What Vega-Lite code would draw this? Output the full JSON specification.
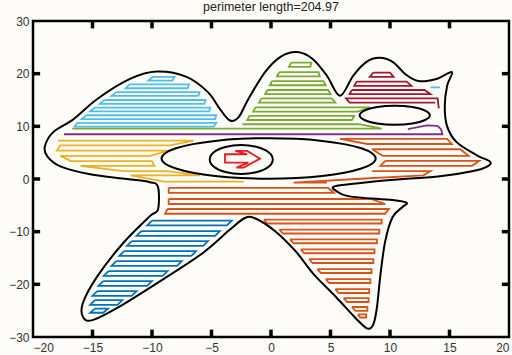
{
"$schema":"https://vega.github.io/schema/vega-lite/v6.json",
"width":476,"height":316,
"autosize":{"type":"none"},
"padding":{"left":33,"top":21,"right":3,"bottom":18},
"background":"#fefcf8",
"config":{"view":{"stroke":"#000","strokeWidth":2.5},"font":"Liberation Sans"},
"title":{"text":"perimeter length=204.97","fontSize":12.5,"fontWeight":"normal","color":"#222","offset":2,"font":"Liberation Sans"},
"datasets":{
"ticks":[
{"x":-15,"y":30,"x2":-15,"y2":28.6},{"x":-10,"y":30,"x2":-10,"y2":28.6},{"x":-5,"y":30,"x2":-5,"y2":28.6},{"x":0,"y":30,"x2":0,"y2":28.6},{"x":5,"y":30,"x2":5,"y2":28.6},{"x":10,"y":30,"x2":10,"y2":28.6},{"x":15,"y":30,"x2":15,"y2":28.6},
{"x":-15,"y":-30,"x2":-15,"y2":-28.6},{"x":-10,"y":-30,"x2":-10,"y2":-28.6},{"x":-5,"y":-30,"x2":-5,"y2":-28.6},{"x":0,"y":-30,"x2":0,"y2":-28.6},{"x":5,"y":-30,"x2":5,"y2":-28.6},{"x":10,"y":-30,"x2":10,"y2":-28.6},{"x":15,"y":-30,"x2":15,"y2":-28.6},
{"x":-20,"y":-20,"x2":-19.4,"y2":-20},{"x":-20,"y":-10,"x2":-19.4,"y2":-10},{"x":-20,"y":0,"x2":-19.4,"y2":0},{"x":-20,"y":10,"x2":-19.4,"y2":10},{"x":-20,"y":20,"x2":-19.4,"y2":20},
{"x":20,"y":-20,"x2":19.4,"y2":-20},{"x":20,"y":-10,"x2":19.4,"y2":-10},{"x":20,"y":0,"x2":19.4,"y2":0},{"x":20,"y":10,"x2":19.4,"y2":10},{"x":20,"y":20,"x2":19.4,"y2":20}
],
"shapes":[
{"g":"o","x":-19.0,"y":6.2},{"g":"o","x":-18.3,"y":8.9},{"g":"o","x":-16.6,"y":11.35},{"g":"o","x":-14.6,"y":15.2},{"g":"o","x":-11.85,"y":19.0},{"g":"o","x":-9.6,"y":20.4},{"g":"o","x":-7.1,"y":19.4},{"g":"o","x":-5.3,"y":16.5},{"g":"o","x":-4.3,"y":13.3},{"g":"o","x":-3.45,"y":11.1},{"g":"o","x":-2.7,"y":11.8},{"g":"o","x":-1.9,"y":15.2},{"g":"o","x":-0.5,"y":20.3},{"g":"o","x":0.8,"y":23.2},{"g":"o","x":2.2,"y":24.1},{"g":"o","x":3.5,"y":22.8},{"g":"o","x":4.7,"y":19.6},{"g":"o","x":5.8,"y":15.8},{"g":"o","x":6.9,"y":19.6},{"g":"o","x":8.0,"y":22.2},{"g":"o","x":9.1,"y":23.0},{"g":"o","x":10.25,"y":22.2},{"g":"o","x":11.3,"y":19.9},{"g":"o","x":12.4,"y":18.6},{"g":"o","x":13.9,"y":19.0},{"g":"o","x":15.2,"y":20.3},{"g":"o","x":14.8,"y":17.7},{"g":"o","x":14.6,"y":13.8},{"g":"o","x":14.8,"y":10.0},{"g":"o","x":15.6,"y":7.0},{"g":"o","x":17.3,"y":4.5},{"g":"o","x":18.4,"y":3.3},{"g":"o","x":18.2,"y":2.4},{"g":"o","x":17.0,"y":1.5},{"g":"o","x":14.2,"y":0.5},{"g":"o","x":10.9,"y":-0.05},{"g":"o","x":8.1,"y":-0.6},{"g":"o","x":5.8,"y":-1.2},{"g":"o","x":5.2,"y":-1.6},{"g":"o","x":5.5,"y":-2.3},{"g":"o","x":6.6,"y":-3.3},{"g":"o","x":10.2,"y":-4.0},{"g":"o","x":11.4,"y":-4.5},{"g":"o","x":11.0,"y":-5.4},{"g":"o","x":10.2,"y":-7.3},{"g":"o","x":9.6,"y":-11.8},{"g":"o","x":9.2,"y":-18.1},{"g":"o","x":8.9,"y":-24.4},{"g":"o","x":8.6,"y":-27.6},{"g":"o","x":8.1,"y":-28.4},{"g":"o","x":7.1,"y":-26.4},{"g":"o","x":5.5,"y":-22.5},{"g":"o","x":3.6,"y":-18.1},{"g":"o","x":2.1,"y":-13.8},{"g":"o","x":0.4,"y":-10.0},{"g":"o","x":-1.3,"y":-7.5},{"g":"o","x":-2.2,"y":-7.4},{"g":"o","x":-3.45,"y":-9.6},{"g":"o","x":-5.7,"y":-14.0},{"g":"o","x":-9.1,"y":-19.1},{"g":"o","x":-12.7,"y":-24.2},{"g":"o","x":-15.0,"y":-26.8},{"g":"o","x":-15.8,"y":-26.2},{"g":"o","x":-15.8,"y":-23.5},{"g":"o","x":-14.6,"y":-18.5},{"g":"o","x":-12.4,"y":-12.1},{"g":"o","x":-10.2,"y":-7.1},{"g":"o","x":-9.5,"y":-5.8},{"g":"o","x":-9.5,"y":-1.5},{"g":"o","x":-10.2,"y":-0.6},{"g":"o","x":-12.1,"y":0.0},{"g":"o","x":-15.2,"y":0.9},{"g":"o","x":-17.7,"y":2.4},{"g":"o","x":-18.8,"y":4.3},
{"g":"e1","x":8.8,"y":3.9},{"g":"e1","x":8.49,"y":4.9},{"g":"e1","x":7.59,"y":5.83},{"g":"e1","x":6.16,"y":6.62},{"g":"e1","x":4.3,"y":7.23},{"g":"e1","x":2.13,"y":7.62},{"g":"e1","x":-0.2,"y":7.75},{"g":"e1","x":-2.53,"y":7.62},{"g":"e1","x":-4.7,"y":7.23},{"g":"e1","x":-6.56,"y":6.62},{"g":"e1","x":-7.99,"y":5.83},{"g":"e1","x":-8.89,"y":4.9},{"g":"e1","x":-9.2,"y":3.9},{"g":"e1","x":-8.89,"y":2.9},{"g":"e1","x":-7.99,"y":1.98},{"g":"e1","x":-6.56,"y":1.18},{"g":"e1","x":-4.7,"y":0.57},{"g":"e1","x":-2.53,"y":0.18},{"g":"e1","x":-0.2,"y":0.05},{"g":"e1","x":2.13,"y":0.18},{"g":"e1","x":4.3,"y":0.57},{"g":"e1","x":6.16,"y":1.18},{"g":"e1","x":7.59,"y":1.98},{"g":"e1","x":8.49,"y":2.9},
{"g":"e2","x":0.15,"y":3.7},{"g":"e2","x":-0.2,"y":5.08},{"g":"e2","x":-1.18,"y":6.08},{"g":"e2","x":-2.5,"y":6.45},{"g":"e2","x":-3.83,"y":6.08},{"g":"e2","x":-4.8,"y":5.08},{"g":"e2","x":-5.15,"y":3.7},{"g":"e2","x":-4.8,"y":2.33},{"g":"e2","x":-3.83,"y":1.32},{"g":"e2","x":-2.5,"y":0.95},{"g":"e2","x":-1.18,"y":1.32},{"g":"e2","x":-0.2,"y":2.33},
{"g":"e3","x":13.35,"y":12.1},{"g":"e3","x":12.95,"y":13.0},{"g":"e3","x":11.88,"y":13.66},{"g":"e3","x":10.4,"y":13.9},{"g":"e3","x":8.93,"y":13.66},{"g":"e3","x":7.85,"y":13.0},{"g":"e3","x":7.45,"y":12.1},{"g":"e3","x":7.85,"y":11.2},{"g":"e3","x":8.93,"y":10.54},{"g":"e3","x":10.4,"y":10.3},{"g":"e3","x":11.88,"y":10.54},{"g":"e3","x":12.95,"y":11.2}
],
"stripes":[
{"g":"b1","c":"blue","x":-10.0,"y":-7.9},{"g":"b1","c":"blue","x":-3.3,"y":-7.9},{"g":"b1","c":"blue","x":-3.7,"y":-8.8},{"g":"b1","c":"blue","x":-10.4,"y":-8.8},{"g":"b1","c":"blue","x":-10.0,"y":-7.9},
{"g":"b2","c":"blue","x":-10.9,"y":-9.9},{"g":"b2","c":"blue","x":-4.3,"y":-9.9},{"g":"b2","c":"blue","x":-4.7,"y":-10.8},{"g":"b2","c":"blue","x":-11.3,"y":-10.8},{"g":"b2","c":"blue","x":-10.9,"y":-9.9},
{"g":"b3","c":"blue","x":-11.7,"y":-11.8},{"g":"b3","c":"blue","x":-5.3,"y":-11.8},{"g":"b3","c":"blue","x":-5.7,"y":-12.7},{"g":"b3","c":"blue","x":-12.1,"y":-12.7},{"g":"b3","c":"blue","x":-11.7,"y":-11.8},
{"g":"b4","c":"blue","x":-12.35,"y":-13.7},{"g":"b4","c":"blue","x":-6.3,"y":-13.7},{"g":"b4","c":"blue","x":-6.7,"y":-14.6},{"g":"b4","c":"blue","x":-12.75,"y":-14.6},{"g":"b4","c":"blue","x":-12.35,"y":-13.7},
{"g":"b5","c":"blue","x":-13.0,"y":-15.6},{"g":"b5","c":"blue","x":-7.5,"y":-15.6},{"g":"b5","c":"blue","x":-7.9,"y":-16.5},{"g":"b5","c":"blue","x":-13.4,"y":-16.5},{"g":"b5","c":"blue","x":-13.0,"y":-15.6},
{"g":"b6","c":"blue","x":-13.65,"y":-17.5},{"g":"b6","c":"blue","x":-8.7,"y":-17.5},{"g":"b6","c":"blue","x":-9.1,"y":-18.4},{"g":"b6","c":"blue","x":-14.05,"y":-18.4},{"g":"b6","c":"blue","x":-13.65,"y":-17.5},
{"g":"b7","c":"blue","x":-14.1,"y":-19.4},{"g":"b7","c":"blue","x":-10.0,"y":-19.4},{"g":"b7","c":"blue","x":-10.4,"y":-20.3},{"g":"b7","c":"blue","x":-14.5,"y":-20.3},{"g":"b7","c":"blue","x":-14.1,"y":-19.4},
{"g":"b8","c":"blue","x":-14.6,"y":-21.3},{"g":"b8","c":"blue","x":-11.3,"y":-21.3},{"g":"b8","c":"blue","x":-11.7,"y":-22.2},{"g":"b8","c":"blue","x":-15.0,"y":-22.2},{"g":"b8","c":"blue","x":-14.6,"y":-21.3},
{"g":"b9","c":"blue","x":-14.8,"y":-23.0},{"g":"b9","c":"blue","x":-12.5,"y":-23.0},{"g":"b9","c":"blue","x":-12.9,"y":-23.9},{"g":"b9","c":"blue","x":-15.2,"y":-23.9},{"g":"b9","c":"blue","x":-14.8,"y":-23.0},
{"g":"b10","c":"blue","x":-14.8,"y":-24.6},{"g":"b10","c":"blue","x":-13.7,"y":-24.6},{"g":"b10","c":"blue","x":-14.1,"y":-25.4},{"g":"b10","c":"blue","x":-15.2,"y":-25.4},{"g":"b10","c":"blue","x":-14.8,"y":-24.6},
{"g":"lb1","c":"lightblue","x":-9.9,"y":19.4},{"g":"lb1","c":"lightblue","x":-8.1,"y":19.4},{"g":"lb1","c":"lightblue","x":-8.3,"y":18.68},{"g":"lb1","c":"lightblue","x":-10.3,"y":18.68},{"g":"lb1","c":"lightblue","x":-9.9,"y":19.4},
{"g":"lb2","c":"lightblue","x":-11.9,"y":17.95},{"g":"lb2","c":"lightblue","x":-6.9,"y":17.95},{"g":"lb2","c":"lightblue","x":-7.0,"y":17.23},{"g":"lb2","c":"lightblue","x":-12.2,"y":17.23},{"g":"lb2","c":"lightblue","x":-11.9,"y":17.95},
{"g":"lb3","c":"lightblue","x":-13.0,"y":16.5},{"g":"lb3","c":"lightblue","x":-6.0,"y":16.5},{"g":"lb3","c":"lightblue","x":-6.1,"y":15.78},{"g":"lb3","c":"lightblue","x":-13.4,"y":15.78},{"g":"lb3","c":"lightblue","x":-13.0,"y":16.5},
{"g":"lb4","c":"lightblue","x":-14.0,"y":15.0},{"g":"lb4","c":"lightblue","x":-5.5,"y":15.0},{"g":"lb4","c":"lightblue","x":-5.6,"y":14.28},{"g":"lb4","c":"lightblue","x":-14.4,"y":14.28},{"g":"lb4","c":"lightblue","x":-14.0,"y":15.0},
{"g":"lb5","c":"lightblue","x":-14.8,"y":13.55},{"g":"lb5","c":"lightblue","x":-5.1,"y":13.55},{"g":"lb5","c":"lightblue","x":-5.2,"y":12.83},{"g":"lb5","c":"lightblue","x":-15.2,"y":12.83},{"g":"lb5","c":"lightblue","x":-14.8,"y":13.55},
{"g":"lb6","c":"lightblue","x":-15.5,"y":12.1},{"g":"lb6","c":"lightblue","x":-4.6,"y":12.1},{"g":"lb6","c":"lightblue","x":-4.7,"y":11.38},{"g":"lb6","c":"lightblue","x":-15.9,"y":11.38},{"g":"lb6","c":"lightblue","x":-15.5,"y":12.1},
{"g":"lb7","c":"lightblue","x":-16.3,"y":10.65},{"g":"lb7","c":"lightblue","x":-4.6,"y":10.65},{"g":"lb7","c":"lightblue","x":-4.8,"y":9.95},{"g":"lb7","c":"lightblue","x":-16.5,"y":9.95},{"g":"lb7","c":"lightblue","x":-16.3,"y":10.65},
{"g":"lbd","c":"lightblue","x":13.4,"y":17.4},{"g":"lbd","c":"lightblue","x":14.2,"y":17.4},
{"g":"g1","c":"green","x":1.7,"y":22.1},{"g":"g1","c":"green","x":3.4,"y":22.1},{"g":"g1","c":"green","x":3.3,"y":21.3},{"g":"g1","c":"green","x":1.5,"y":21.3},{"g":"g1","c":"green","x":1.7,"y":22.1},
{"g":"g2","c":"green","x":0.7,"y":20.3},{"g":"g2","c":"green","x":4.0,"y":20.3},{"g":"g2","c":"green","x":4.1,"y":19.5},{"g":"g2","c":"green","x":0.5,"y":19.5},{"g":"g2","c":"green","x":0.7,"y":20.3},
{"g":"g3","c":"green","x":0.1,"y":18.6},{"g":"g3","c":"green","x":4.4,"y":18.6},{"g":"g3","c":"green","x":4.6,"y":17.8},{"g":"g3","c":"green","x":-0.1,"y":17.8},{"g":"g3","c":"green","x":0.1,"y":18.6},
{"g":"g4","c":"green","x":-0.3,"y":16.9},{"g":"g4","c":"green","x":4.8,"y":16.9},{"g":"g4","c":"green","x":5.0,"y":16.1},{"g":"g4","c":"green","x":-0.5,"y":16.1},{"g":"g4","c":"green","x":-0.3,"y":16.9},
{"g":"g5","c":"green","x":-0.8,"y":15.3},{"g":"g5","c":"green","x":5.1,"y":15.3},{"g":"g5","c":"green","x":5.4,"y":14.5},{"g":"g5","c":"green","x":-1.0,"y":14.5},{"g":"g5","c":"green","x":-0.8,"y":15.3},
{"g":"g6","c":"green","x":-1.3,"y":13.6},{"g":"g6","c":"green","x":8.3,"y":13.6},{"g":"g6","c":"green","x":7.3,"y":12.8},{"g":"g6","c":"green","x":-1.5,"y":12.8},{"g":"g6","c":"green","x":-1.3,"y":13.6},
{"g":"g7","c":"green","x":-1.8,"y":12.0},{"g":"g7","c":"green","x":7.0,"y":12.0},{"g":"g7","c":"green","x":6.8,"y":11.2},{"g":"g7","c":"green","x":-2.0,"y":11.2},{"g":"g7","c":"green","x":-1.8,"y":12.0},
{"g":"g8","c":"green","x":-2.4,"y":10.4},{"g":"g8","c":"green","x":7.4,"y":10.4},{"g":"g8","c":"green","x":9.3,"y":9.55},{"g":"g8","c":"green","x":-16.7,"y":9.55},
{"g":"dr1","c":"darkred","x":8.6,"y":20.2},{"g":"dr1","c":"darkred","x":10.0,"y":20.2},{"g":"dr1","c":"darkred","x":10.3,"y":19.4},{"g":"dr1","c":"darkred","x":8.3,"y":19.4},{"g":"dr1","c":"darkred","x":8.6,"y":20.2},
{"g":"dr2","c":"darkred","x":7.2,"y":18.5},{"g":"dr2","c":"darkred","x":11.4,"y":18.5},{"g":"dr2","c":"darkred","x":11.8,"y":17.7},{"g":"dr2","c":"darkred","x":7.0,"y":17.7},{"g":"dr2","c":"darkred","x":7.2,"y":18.5},
{"g":"dr3","c":"darkred","x":6.8,"y":16.9},{"g":"dr3","c":"darkred","x":12.9,"y":16.9},{"g":"dr3","c":"darkred","x":13.4,"y":16.1},{"g":"dr3","c":"darkred","x":6.6,"y":16.1},{"g":"dr3","c":"darkred","x":6.8,"y":16.9},
{"g":"dr4","c":"darkred","x":13.8,"y":14.5},{"g":"dr4","c":"darkred","x":6.6,"y":14.5},{"g":"dr4","c":"darkred","x":6.3,"y":15.3},{"g":"dr4","c":"darkred","x":14.0,"y":15.3},{"g":"dr4","c":"darkred","x":14.1,"y":13.4},
{"g":"p","c":"purple","x":-17.4,"y":8.5},{"g":"p","c":"purple","x":14.4,"y":8.5},{"g":"p","c":"purple","x":14.3,"y":9.4},{"g":"p","c":"purple","x":14.0,"y":10.1},{"g":"p","c":"purple","x":13.1,"y":10.2},{"g":"p","c":"purple","x":11.5,"y":9.45},
{"g":"y","c":"yellow","x":-17.9,"y":7.3},{"g":"y","c":"yellow","x":-6.5,"y":7.3},{"g":"y","c":"yellow","x":-8.5,"y":6.4},{"g":"y","c":"yellow","x":-17.7,"y":6.4},{"g":"y","c":"yellow","x":-18.0,"y":5.4},{"g":"y","c":"yellow","x":-8.6,"y":5.4},{"g":"y","c":"yellow","x":-10.2,"y":4.4},{"g":"y","c":"yellow","x":-17.7,"y":4.4},{"g":"y","c":"yellow","x":-16.8,"y":3.4},{"g":"y","c":"yellow","x":-10.0,"y":3.4},{"g":"y","c":"yellow","x":-9.8,"y":2.5},{"g":"y","c":"yellow","x":-16.0,"y":2.5},{"g":"y","c":"yellow","x":-12.4,"y":1.5},{"g":"y","c":"yellow","x":-8.7,"y":1.5},{"g":"y","c":"yellow","x":-6.0,"y":0.7},{"g":"y","c":"yellow","x":-11.8,"y":0.7},{"g":"y","c":"yellow","x":-9.0,"y":-0.5},{"g":"y","c":"yellow","x":-2.3,"y":-0.5},
{"g":"o1","c":"orange","x":5.8,"y":7.6},{"g":"o1","c":"orange","x":14.8,"y":7.6},{"g":"o1","c":"orange","x":15.2,"y":6.65},{"g":"o1","c":"orange","x":8.1,"y":6.65},{"g":"o1","c":"orange","x":5.8,"y":7.6},
{"g":"o2","c":"orange","x":8.5,"y":5.65},{"g":"o2","c":"orange","x":15.9,"y":5.65},{"g":"o2","c":"orange","x":16.6,"y":4.4},{"g":"o2","c":"orange","x":9.4,"y":4.4},{"g":"o2","c":"orange","x":8.5,"y":5.65},
{"g":"o3","c":"orange","x":9.6,"y":3.45},{"g":"o3","c":"orange","x":17.5,"y":3.45},{"g":"o3","c":"orange","x":16.9,"y":2.5},{"g":"o3","c":"orange","x":9.2,"y":2.5},{"g":"o3","c":"orange","x":9.6,"y":3.45},
{"g":"o4","c":"orange","x":8.5,"y":1.5},{"g":"o4","c":"orange","x":13.4,"y":1.5},{"g":"o4","c":"orange","x":12.8,"y":0.7},{"g":"o4","c":"orange","x":7.5,"y":0.05},{"g":"o4","c":"orange","x":1.9,"y":-0.7},{"g":"o4","c":"orange","x":4.7,"y":-0.7},
{"g":"o5","c":"orange","x":-8.6,"y":-1.7},{"g":"o5","c":"orange","x":4.8,"y":-1.7},{"g":"o5","c":"orange","x":5.3,"y":-2.65},{"g":"o5","c":"orange","x":-8.6,"y":-2.65},{"g":"o5","c":"orange","x":-8.6,"y":-1.7},
{"g":"o6","c":"orange","x":-8.6,"y":-3.8},{"g":"o6","c":"orange","x":8.4,"y":-3.8},{"g":"o6","c":"orange","x":9.6,"y":-4.75},{"g":"o6","c":"orange","x":-8.6,"y":-4.75},{"g":"o6","c":"orange","x":-8.6,"y":-3.8},
{"g":"o7","c":"orange","x":-8.7,"y":-5.7},{"g":"o7","c":"orange","x":9.9,"y":-5.7},{"g":"o7","c":"orange","x":9.6,"y":-6.6},{"g":"o7","c":"orange","x":-8.9,"y":-6.6},{"g":"o7","c":"orange","x":-8.7,"y":-5.7},
{"g":"o8","c":"orange","x":-0.6,"y":-7.7},{"g":"o8","c":"orange","x":9.3,"y":-7.7},{"g":"o8","c":"orange","x":9.3,"y":-8.45},{"g":"o8","c":"orange","x":-0.3,"y":-8.45},{"g":"o8","c":"orange","x":-0.6,"y":-7.7},
{"g":"o9","c":"orange","x":0.7,"y":-9.6},{"g":"o9","c":"orange","x":9.1,"y":-9.6},{"g":"o9","c":"orange","x":9.1,"y":-10.35},{"g":"o9","c":"orange","x":1.0,"y":-10.35},{"g":"o9","c":"orange","x":0.7,"y":-9.6},
{"g":"o10","c":"orange","x":1.6,"y":-11.45},{"g":"o10","c":"orange","x":8.9,"y":-11.45},{"g":"o10","c":"orange","x":8.9,"y":-12.2},{"g":"o10","c":"orange","x":1.9,"y":-12.2},{"g":"o10","c":"orange","x":1.6,"y":-11.45},
{"g":"o11","c":"orange","x":2.5,"y":-13.35},{"g":"o11","c":"orange","x":8.7,"y":-13.35},{"g":"o11","c":"orange","x":8.7,"y":-14.1},{"g":"o11","c":"orange","x":2.8,"y":-14.1},{"g":"o11","c":"orange","x":2.5,"y":-13.35},
{"g":"o12","c":"orange","x":3.2,"y":-15.2},{"g":"o12","c":"orange","x":8.6,"y":-15.2},{"g":"o12","c":"orange","x":8.6,"y":-15.95},{"g":"o12","c":"orange","x":3.5,"y":-15.95},{"g":"o12","c":"orange","x":3.2,"y":-15.2},
{"g":"o13","c":"orange","x":3.9,"y":-17.1},{"g":"o13","c":"orange","x":8.45,"y":-17.1},{"g":"o13","c":"orange","x":8.45,"y":-17.85},{"g":"o13","c":"orange","x":4.2,"y":-17.85},{"g":"o13","c":"orange","x":3.9,"y":-17.1},
{"g":"o14","c":"orange","x":4.6,"y":-19.0},{"g":"o14","c":"orange","x":8.35,"y":-19.0},{"g":"o14","c":"orange","x":8.35,"y":-19.75},{"g":"o14","c":"orange","x":4.9,"y":-19.75},{"g":"o14","c":"orange","x":4.6,"y":-19.0},
{"g":"o15","c":"orange","x":5.4,"y":-20.9},{"g":"o15","c":"orange","x":8.25,"y":-20.9},{"g":"o15","c":"orange","x":8.25,"y":-21.65},{"g":"o15","c":"orange","x":5.7,"y":-21.65},{"g":"o15","c":"orange","x":5.4,"y":-20.9},
{"g":"o16","c":"orange","x":6.1,"y":-22.6},{"g":"o16","c":"orange","x":8.2,"y":-22.6},{"g":"o16","c":"orange","x":8.2,"y":-23.35},{"g":"o16","c":"orange","x":6.4,"y":-23.35},{"g":"o16","c":"orange","x":6.1,"y":-22.6},
{"g":"o17","c":"orange","x":6.8,"y":-24.3},{"g":"o17","c":"orange","x":8.1,"y":-24.3},{"g":"o17","c":"orange","x":8.1,"y":-25.05},{"g":"o17","c":"orange","x":7.1,"y":-25.05},{"g":"o17","c":"orange","x":6.8,"y":-24.3},
{"g":"o18","c":"orange","x":7.3,"y":-25.7},{"g":"o18","c":"orange","x":8.0,"y":-25.7},{"g":"o18","c":"orange","x":8.0,"y":-26.3},{"g":"o18","c":"orange","x":7.5,"y":-26.3},{"g":"o18","c":"orange","x":7.3,"y":-25.7},
{"g":"r","c":"red","x":-2.0,"y":4.7},{"g":"r","c":"red","x":-3.87,"y":4.7},{"g":"r","c":"red","x":-3.87,"y":3.1},{"g":"r","c":"red","x":-1.9,"y":3.1},{"g":"r","c":"red","x":-2.9,"y":2.17},{"g":"r","c":"red","x":-2.3,"y":2.17},{"g":"r","c":"red","x":-0.92,"y":3.87},{"g":"r","c":"red","x":-2.0,"y":5.33},{"g":"r","c":"red","x":-3.0,"y":5.33},{"g":"r","c":"red","x":-2.0,"y":4.7}
]
},
"encoding":{
 "x":{"field":"x","type":"quantitative","scale":{"domain":[-20,20],"nice":false,"zero":false},
  "axis":{"orient":"bottom","title":null,"grid":false,"domain":false,"ticks":false,"values":[-20,-15,-10,-5,0,5,10,15,20],"labelPadding":5,"labelFontSize":12,"labelColor":"#333","labelFont":"Liberation Sans"}},
 "y":{"field":"y","type":"quantitative","scale":{"domain":[-30,30],"nice":false,"zero":false},
  "axis":{"orient":"left","title":null,"grid":false,"domain":false,"ticks":false,"values":[-30,-20,-10,0,10,20,30],"labelPadding":4,"labelFontSize":12,"labelColor":"#333","labelFont":"Liberation Sans"}}
},
"layer":[
{"data":{"name":"stripes"},
 "mark":{"type":"line","strokeWidth":1.8},
 "encoding":{
  "detail":{"field":"g"},
  "color":{"field":"c","type":"nominal","legend":null,"scale":{"domain":["blue","orange","yellow","purple","green","lightblue","darkred","red"],"range":["#0072BD","#D95319","#EDB120","#7E2F8E","#77AC30","#4DBEEE","#A2142F","#E8191F"]}},
  "order":{"value":null}
 }},
{"data":{"name":"shapes"},
 "mark":{"type":"line","interpolate":"cardinal-closed","color":"#000","strokeWidth":2},
 "encoding":{
  "detail":{"field":"g"},
  "order":{"value":null}
 }},
{"data":{"name":"ticks"},
 "mark":{"type":"rule","color":"#000","strokeWidth":3.5,"opacity":1},
 "encoding":{"x2":{"field":"x2"},"y2":{"field":"y2"}}}
]
}
